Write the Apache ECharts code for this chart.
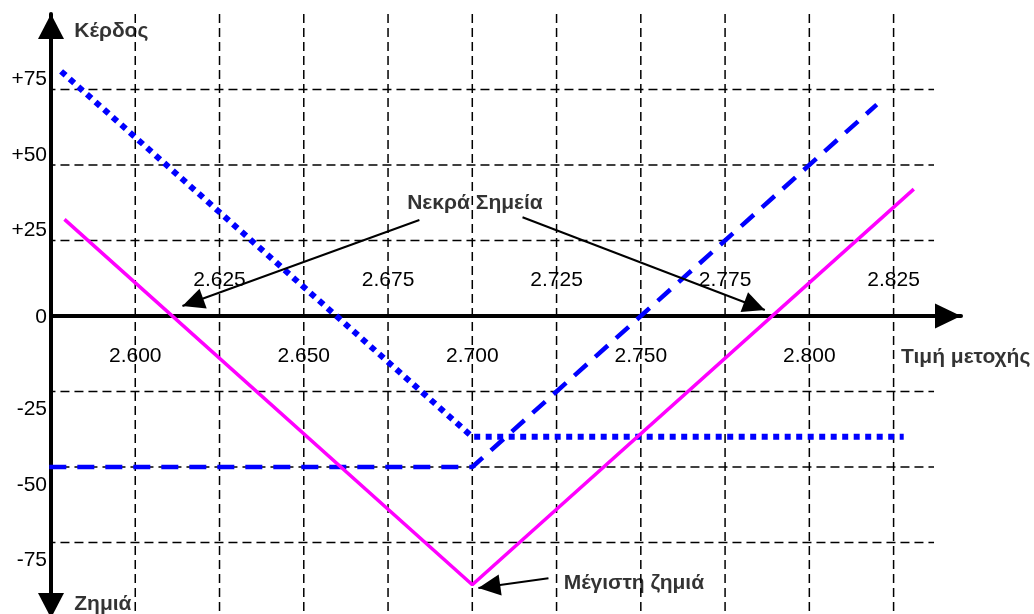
<!DOCTYPE html>
<html><head><meta charset="utf-8">
<script src="https://cdn.jsdelivr.net/npm/echarts@6/dist/echarts.min.js"></script>
<style>html,body{margin:0;padding:0;background:#fff}#c{width:1034px;height:614px}</style>
</head><body><div id="c"></div>
<script>
// ---- data ----
const xTicks = [2.600, 2.625, 2.650, 2.675, 2.700, 2.725, 2.750, 2.775, 2.800, 2.825];
const xTickLabels = ['2.600','2.625','2.650','2.675','2.700','2.725','2.750','2.775','2.800','2.825'];
const yTicks = [75, 50, 25, 0, -25, -50, -75];
const yTickLabels = ['+75','+50','+25','0','-25','-50','-75'];

// dotted blue
const putPrices = [2.578, 2.700, 2.828];
const putProfit = [81, -40, -40];
// dashed blue
const callPrices = [2.5745, 2.700, 2.820];
const callProfit = [-50, -50, 70];
// magenta solid
const straddlePrices = [2.579, 2.700, 2.831];
const straddleProfit = [32, -89, 42];

const noteTexts = ['Κέρδος', 'Ζημιά', 'Νεκρά Σημεία', 'Μέγιστη ζημιά', 'Τιμή μετοχής'];
const notePrices = [2.5819, 2.5819, 2.7008, 2.7271, 2.8272];
const noteProfit = [94.4, -95.4, 37.4, -88.4, -13.5];

const arrowFromPrice = [2.6843, 2.7149, 2.7226];
const arrowFromProfit = [31.8, 32.7, -86.8];
const arrowToPrice = [2.6140, 2.7868, 2.7018];
const arrowToProfit = [3.3, 2.0, -90.1];

const gridFromPrice = 2.5695, gridToPrice = 2.837;
const gridTopProfit = 100, gridBottomProfit = -100;

// ---- chart ----
const FONT = '"Liberation Sans", Arial, sans-serif';
const noteAlign = ['left', 'left', 'center', 'left', 'left'];
const near = (a, b) => Math.abs(a - b) < 1e-6;
const lbl = {fontSize: 21, fontFamily: FONT, color: '#000'};

const gridStyle = {color: '#000', width: 1.5, type: [9, 5]};
const series = [];
function gridLine(pts) {
  return {type: 'line', silent: true, clip: false, symbol: 'none', animation: false, z: 1,
    data: pts, lineStyle: gridStyle};
}
yTicks.filter(v => v !== 0).forEach(v => series.push(gridLine([[gridFromPrice, v], [gridToPrice, v]])));
xTicks.forEach(x => series.push(gridLine([[x, gridTopProfit], [x, gridBottomProfit]])));

function mkLine(xs, ys, style, z) {
  return {type: 'line', silent: true, clip: false, symbol: 'none', animation: false, z: z,
    data: xs.map((x, i) => [x, ys[i]]), lineStyle: style};
}
series.push(mkLine(callPrices, callProfit, {color: '#0000FF', width: 4.5, type: [17, 11], cap: 'butt'}, 3));
series.push(mkLine(putPrices, putProfit, {color: '#0000FF', width: 6, type: [6, 5.5], cap: 'butt'}, 3));
series.push(mkLine(straddlePrices, straddleProfit, {color: '#FF00FF', width: 3.5}, 4));

series.push({
  type: 'scatter', silent: true, clip: false, symbol: 'circle', symbolSize: 1, animation: false, z: 5,
  itemStyle: {color: 'rgba(0,0,0,0)'},
  data: noteTexts.map((t, i) => ({value: [notePrices[i], noteProfit[i]], name: t, label: {align: noteAlign[i]}})),
  label: {show: true, position: [0.5, 0.5], formatter: p => p.name, color: '#000', fontSize: 21, fontWeight: 'bold', fontFamily: FONT, verticalAlign: 'middle'},
  markLine: {
    silent: true, animation: false, symbol: ['none', 'triangle'], symbolSize: [21, 22], symbolOffset: [0, [0, 11]],
    label: {show: false}, emphasis: {disabled: true},
    lineStyle: {color: '#000', width: 2, type: 'solid'},
    data: arrowFromPrice.map((x, i) => [{coord: [x, arrowFromProfit[i]]}, {coord: [arrowToPrice[i], arrowToProfit[i]]}])
  }
});

const option = {
  animation: false,
  grid: {left: 51, top: 14, width: 910, height: 604, outerBoundsMode: 'none', containLabel: false},
  xAxis: {
    type: 'value', min: 2.575, max: 2.845, interval: 0.025, position: 'bottom', offset: -302,
    axisLine: {onZero: false, lineStyle: {color: '#000', width: 4}, symbol: ['none', 'triangle'], symbolSize: [25, 26], symbolOffset: [0, -13]},
    axisTick: {show: false}, splitLine: {show: false},
    axisLabel: {
      margin: 0, verticalAlign: 'middle', showMinLabel: false, showMaxLabel: false,
      formatter: v => {
        const i = xTicks.findIndex(t => near(t, v));
        if (i < 0) return '';
        return (i % 2 === 0 ? '{dn|' : '{up|') + xTickLabels[i] + '}';
      },
      rich: {dn: Object.assign({padding: [80, 0, 0, 0]}, lbl), up: Object.assign({padding: [0, 0, 72, 0]}, lbl)}
    }
  },
  yAxis: {
    type: 'value', min: -100, max: 100, interval: 25,
    axisLine: {onZero: false, lineStyle: {color: '#000', width: 4}, symbol: ['triangle', 'triangle'], symbolSize: [26, 25], symbolOffset: [12.5, -12.5]},
    axisTick: {show: false}, splitLine: {show: false},
    axisLabel: {
      margin: 4,
      formatter: v => {
        const i = yTicks.findIndex(t => near(t, v));
        if (i < 0) return '';
        const t = yTicks[i];
        return '{' + (t > 0 ? 'up' : (t < 0 ? 'dn' : 'z')) + '|' + yTickLabels[i] + '}';
      },
      rich: {up: Object.assign({padding: [0, 0, 20, 0]}, lbl), dn: Object.assign({padding: [36, 0, 0, 0]}, lbl), z: Object.assign({padding: [2, 0, 0, 0]}, lbl)}
    }
  },
  series: series
};
const chart = echarts.init(document.getElementById('c'));
chart.setOption(option);
</script>
</body></html>
